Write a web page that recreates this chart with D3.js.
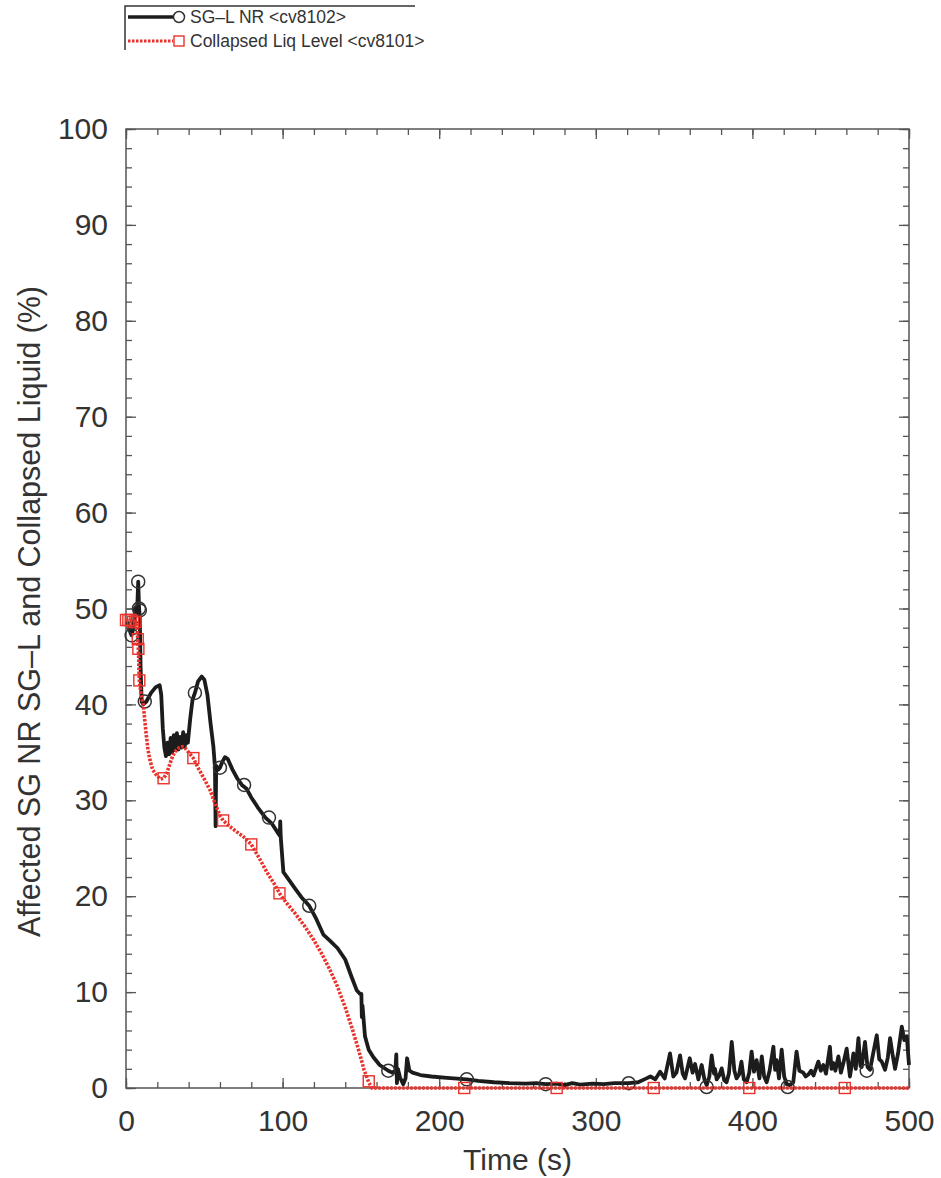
<!DOCTYPE html>
<html>
<head>
<meta charset="utf-8">
<script src="https://cdn.jsdelivr.net/npm/d3@7"></script>
<style>
  body { margin: 0; background: #fff; }
  text { font-family: "Liberation Sans", Arial, sans-serif; fill: #333; }
</style>
</head>
<body>
<div id="chart"></div>
<script>
// SG-L NR <cv8102>  [time s, level %]
var sgNR = [
  [0,48.7],[1,48.5],[2,48.0],[3,47.4],[3.6,47.2],[4.5,47.8],[5.2,48.8],[5.8,50.0],[6.5,49.5],[7.2,50.2],
  [7.8,52.8],[8.3,50.2],[8.8,49.0],[9.3,44],[10,40.3],[11,40.0],[13,40.3],[16,41.2],[19,41.8],[21.5,42.0],
  [22.5,41.0],[23.5,37.5],[24.5,35.5],[25.5,34.6],[26.5,36.0],[27.5,34.8],[28.5,36.5],[29.5,35.0],[30.5,36.8],
  [31.5,35.2],[32.5,37.0],[33.5,35.3],[34.5,36.6],[35.5,35.5],[36.5,37.1],[37.5,35.6],[38.5,36.8],[39.5,36.0],
  [41,38.5],[42.5,40.5],[44,41.2],[46,42.4],[48.3,42.9],[50,42.6],[52,41],[54,38],[55.8,35.6],[56.8,33.5],
  [57.2,27.3],[57.6,33.6],[59,33.2],[60,33.4],[61.5,34],[63.2,34.5],[65,34.3],[68,33.2],[71,32.3],[74,31.6],
  [77,31.2],[80,30.3],[84,29.3],[89,28.2],[93,27.6],[97,26.6],[98.2,26.3],[98.5,27.8],[98.8,26.2],[100.5,22.5],
  [103.6,21.8],[108,20.8],[112,19.9],[117,19],[121,17.8],[126,16.0],[130,15.4],[135,14.6],[140,13.4],[144,11.6],
  [147.3,10.2],[149.5,9.8],[150.3,9.8],[150.6,7.4],[151,8.6],[152.6,5.4],[155,4.0],[158,3.2],[162,2.4],[167.5,1.8],
  [170,1.6],[172,1.8],[172.6,3.5],[173,0.5],[173.6,2.0],[175,1.1],[177,0.4],[178.5,1.0],[179.5,3.1],[181,1.8],
  [183,1.6],[188,1.35],[195,1.2],[205,1.05],[217.6,0.9],[225,0.75],[235,0.6],[245,0.5],[255,0.45],[262,0.5],
  [268,0.4],[275,0.45],[280,0.3],[285,0.5],[290,0.35],[298,0.45],[305,0.4],[312,0.5],[321,0.5],[327,0.6],
  [331,0.9],[334.9,1.2],[338,0.9],[341,1.7],[344,1.0],[347.4,3.6],[349.5,1.2],[351.5,1.6],[353.8,3.4],[355.5,1.5],
  [357,1.0],[360,3.1],[361.8,1.6],[363.4,2.5],[365.5,0.9],[367.6,2.4],[369.5,0.8],[370.8,0.3],[372.5,1.2],[374,3.4],
  [375.5,1.5],[376.1,2.0],[377.2,0.9],[378.8,1.3],[380.4,2.05],[382,0.8],[383.5,0.6],[385,1.5],[386.8,4.8],[388.5,1.8],
  [389.9,1.0],[391.5,1.4],[393,2.75],[394.5,0.9],[396.3,0.6],[398,1.6],[399.5,3.8],[401,1.7],[402.7,2.9],[404.5,1.0],
  [406,3.3],[407.5,1.2],[409.1,0.6],[411,1.8],[413.4,4.3],[414.5,1.9],[415.5,2.9],[417,1.0],[418.7,4.0],[420.3,1.2],
  [421.9,0.4],[424,0.3],[426.1,0.6],[428.2,3.8],[430,1.8],[432.5,1.6],[434,1.2],[435.7,1.4],[437.5,1.8],[439,1.3],
  [440.5,2.0],[442.1,2.75],[443.7,1.8],[445.3,2.4],[447,1.5],[449.5,4.3],[450.5,2.0],[451.7,2.6],[453,1.8],[454.9,3.3],
  [456.5,1.6],[458.1,2.6],[460.2,4.1],[462.3,1.2],[463.5,2.5],[464.5,3.6],[466,2.0],[467.7,5.2],[469,2.3],[469.8,2.2],
  [471.9,4.8],[473.5,2.2],[475.1,1.9],[477,3.5],[479.4,5.5],[481,3.0],[482.6,2.75],[484.7,1.9],[486.5,3.2],[487.9,5.2],
  [489.5,3.5],[491.1,2.0],[493,3.6],[495.4,6.4],[497,5.0],[498.6,5.4],[500,2.4]
];
var sgNRMarks = [
  [3.6,47.2],[5.2,48.0],[7.8,52.8],[8.3,50.0],[8.8,49.8],[12,40.3],[44,41.2],[60,33.4],[75.4,31.6],[91.3,28.2],
  [117,19],[167.5,1.8],[217.6,0.9],[268,0.4],[321,0.5],[370.8,0.1],[422.5,0.1],[473,1.8]
];

// Collapsed Liq Level <cv8101>
var liqLevel = [
  [0,48.8],[2,48.7],[4,48.8],[6,48.6],[7,48.0],[7.9,45.8],[8.5,42.5],[9.5,41.2],[11,40.0],[12.5,37.5],
  [14,35.3],[15.3,34.2],[17,33.2],[19.5,32.6],[22,32.2],[24,32.3],[26,32.8],[28,33.8],[30,34.7],[32,35.2],
  [34,35.5],[36,35.6],[38,35.4],[40,35.0],[43,34.4],[46,33.4],[50,32.2],[53.6,31.1],[57,29.6],[60,28.4],
  [62,27.9],[66,27.3],[70,26.8],[75,26.2],[80,25.4],[85,24.0],[90,22.5],[95,21.2],[98,20.3],[102,19.4],
  [108,18.2],[114,16.9],[120,15.4],[125,14.0],[130,12.4],[135,10.6],[140,8.4],[145,5.9],[149,3.7],[152,1.9],
  [155,0.6],[157,0],[500,0]
];
var liqMarks = [
  [0,48.8],[1.5,48.8],[3,48.8],[4.5,48.6],[6,48.6],[7.5,46.8],[7.9,45.8],[8.5,42.5],[24,32.3],[43,34.4],
  [62,27.9],[80,25.4],[98,20.3],[155,0.7],[216,0],[275,0],[337,0],[398,0],[459,0]
];

var xTicks = [0, 100, 200, 300, 400, 500];
var yTicks = [0, 10, 20, 30, 40, 50, 60, 70, 80, 90, 100];
var legendLabels = ["SG\u2013L NR <cv8102>", "Collapsed Liq Level <cv8101>"];
var xTitle = "Time (s)";
var yTitle = "Affected SG NR SG\u2013L and Collapsed Liquid (%)";

var W = 941, H = 1178;
var margin = { top: 129, right: 32, bottom: 90, left: 126 };
var width = W - margin.left - margin.right,
    height = H - margin.top - margin.bottom;

var svg = d3.select("#chart").append("svg")
    .attr("width", W)
    .attr("height", H)
    .style("background", "#fff");

var g = svg.append("g")
    .attr("transform", "translate(" + margin.left + "," + margin.top + ")");

var x = d3.scaleLinear().domain([0, 500]).range([0, width]);
var y = d3.scaleLinear().domain([0, 100]).range([height, 0]);

var axisColor = "#555";
var xMinor = d3.range(0, 501, 20), yMinor = d3.range(0, 101, 2);

// inward ticks on all four sides: minor (short) and major (long)
function sideTicks(axis, tr, vals, len) {
    var gm = g.append("g").attr("transform", tr)
        .call(axis.tickValues(vals).tickSize(-len).tickFormat(""));
    gm.selectAll("path").remove();
    gm.selectAll("line").attr("stroke", axisColor).attr("stroke-width", 1.3);
}
sideTicks(d3.axisBottom(x), "translate(0," + height + ")", xMinor, 6);
sideTicks(d3.axisTop(x), "translate(0,0)", xMinor, 6);
sideTicks(d3.axisLeft(y), "translate(0,0)", yMinor, 6);
sideTicks(d3.axisRight(y), "translate(" + width + ",0)", yMinor, 6);
sideTicks(d3.axisBottom(x), "translate(0," + height + ")", xTicks, 10);
sideTicks(d3.axisTop(x), "translate(0,0)", xTicks, 10);
sideTicks(d3.axisLeft(y), "translate(0,0)", yTicks, 10);
sideTicks(d3.axisRight(y), "translate(" + width + ",0)", yTicks, 10);

// tick labels
var xLab = g.append("g").attr("transform", "translate(0," + height + ")")
    .call(d3.axisBottom(x).tickValues(xTicks).tickSize(0).tickPadding(22));
xLab.select(".domain").remove();
xLab.selectAll("text").attr("font-size", 30).attr("font-family", "Liberation Sans, Arial, sans-serif")
    .attr("fill", "#333").attr("dy", "0.71em");

var yLab = g.append("g")
    .call(d3.axisLeft(y).tickValues(yTicks).tickSize(0).tickPadding(18));
yLab.select(".domain").remove();
yLab.selectAll("text").attr("font-size", 30).attr("font-family", "Liberation Sans, Arial, sans-serif")
    .attr("fill", "#333");

// frame
g.append("rect")
    .attr("width", width).attr("height", height)
    .attr("fill", "none").attr("stroke", axisColor).attr("stroke-width", 1.5);

// lines
var line = d3.line().x(d => x(d[0])).y(d => y(d[1]));

g.append("path").datum(sgNR)
    .attr("d", line)
    .attr("fill", "none")
    .attr("stroke", "#1c1c1c")
    .attr("stroke-width", 3.8)
    .attr("stroke-linejoin", "round");

g.selectAll(".circ").data(sgNRMarks).enter()
    .append("circle")
    .attr("cx", d => x(d[0]))
    .attr("cy", d => y(d[1]))
    .attr("r", 6.5)
    .attr("fill", "none")
    .attr("stroke", "#333")
    .attr("stroke-width", 1.5);

g.append("path").datum(liqLevel)
    .attr("d", line)
    .attr("fill", "none")
    .attr("stroke", "#e8322b")
    .attr("stroke-width", 3.6)
    .attr("stroke-dasharray", "2.5,1.5");

g.selectAll(".sq").data(liqMarks).enter()
    .append("rect")
    .attr("x", d => x(d[0]) - 5.5)
    .attr("y", d => y(d[1]) - 5.5)
    .attr("width", 11).attr("height", 11)
    .attr("fill", "none")
    .attr("stroke", "#e8322b")
    .attr("stroke-width", 1.4);

// axis titles
svg.append("text")
    .attr("x", margin.left + width / 2)
    .attr("y", 1170)
    .attr("text-anchor", "middle")
    .attr("font-size", 30)
    .text(xTitle);

svg.append("text")
    .attr("transform", "translate(40," + (margin.top + height / 2 + 3) + ") rotate(-90)")
    .attr("text-anchor", "middle")
    .attr("font-size", 30.5)
    .text(yTitle);

// legend
var leg = svg.append("g");
leg.append("path")
    .attr("d", "M125,50 V6 H415")
    .attr("fill", "none").attr("stroke", "#333").attr("stroke-width", 1.5);
leg.append("line").attr("x1", 128).attr("x2", 173).attr("y1", 17).attr("y2", 17)
    .attr("stroke", "#1c1c1c").attr("stroke-width", 3.4);
leg.append("circle").attr("cx", 179).attr("cy", 17).attr("r", 5.5)
    .attr("fill", "none").attr("stroke", "#333").attr("stroke-width", 1.5);
leg.append("line").attr("x1", 128).attr("x2", 173).attr("y1", 41).attr("y2", 41)
    .attr("stroke", "#e8322b").attr("stroke-width", 3.2).attr("stroke-dasharray", "2.5,1.5");
leg.append("rect").attr("x", 174).attr("y", 36).attr("width", 10).attr("height", 10)
    .attr("fill", "none").attr("stroke", "#e8322b").attr("stroke-width", 1.4);
leg.selectAll(".lt").data(legendLabels).enter()
    .append("text")
    .attr("x", 190)
    .attr("y", (d, i) => 23 + i * 24)
    .attr("font-size", 17.5)
    .attr("fill", "#222")
    .text(d => d);
</script>
</body>
</html>
